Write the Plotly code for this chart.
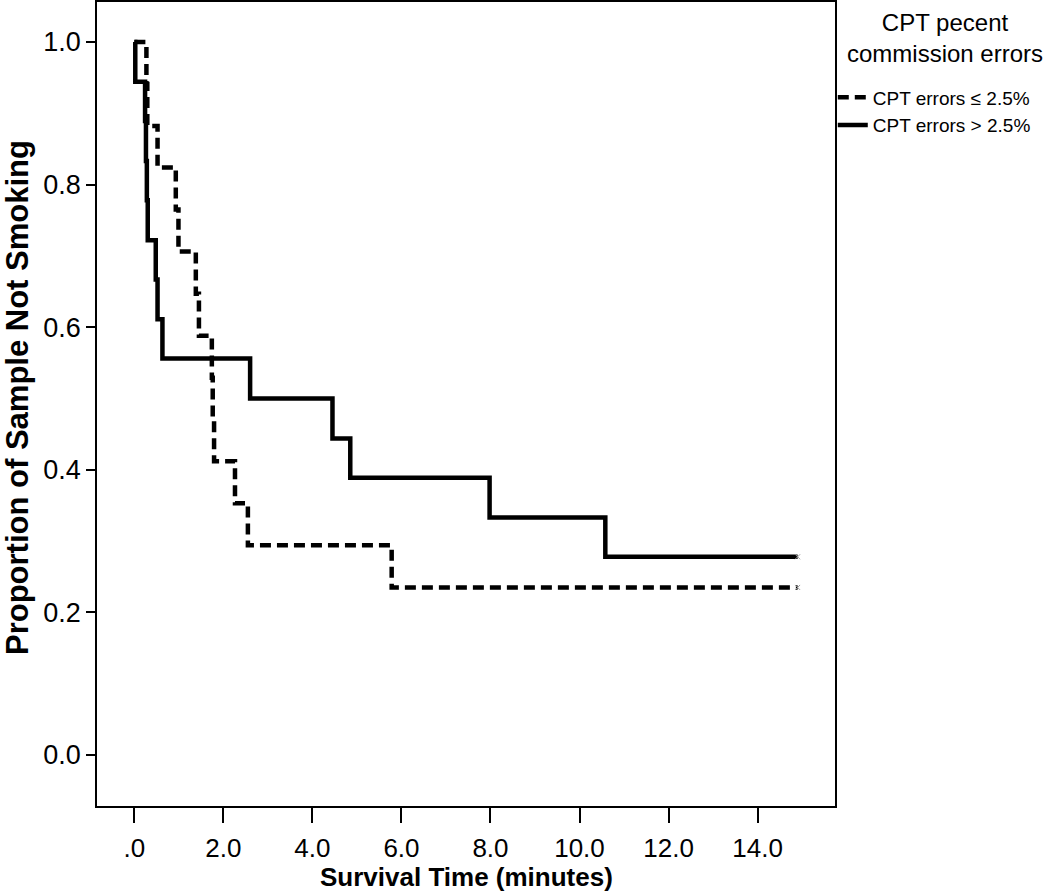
import plotly.graph_objects as go

# Kaplan-Meier step data (time in minutes, proportion not smoking)
low_times = [0.0, 0.27, 0.29, 0.52, 0.93, 0.99, 1.38, 1.45, 1.74, 1.76, 1.79, 2.26, 2.55, 5.78, 14.9]
low_surv = [1.0, 0.941, 0.882, 0.824, 0.765, 0.706, 0.647, 0.588, 0.529, 0.471, 0.412, 0.353, 0.294, 0.235, 0.235]

high_times = [0.0, 0.02, 0.24, 0.26, 0.28, 0.30, 0.48, 0.52, 0.63, 2.60, 4.45, 4.85, 7.98, 10.58, 14.9]
high_surv = [1.0, 0.944, 0.889, 0.833, 0.778, 0.722, 0.667, 0.611, 0.556, 0.5, 0.444, 0.389, 0.333, 0.278, 0.278]

series_names = ["CPT errors \u2264 2.5%", "CPT errors > 2.5%"]
legend_title_lines = ["CPT pecent", "commission errors"]
x_tickvals = [0, 2, 4, 6, 8, 10, 12, 14]
x_ticktext = [".0", "2.0", "4.0", "6.0", "8.0", "10.0", "12.0", "14.0"]
y_tickvals = [0.0, 0.2, 0.4, 0.6, 0.8, 1.0]

FONT = "Liberation Sans, Arial, sans-serif"

fig = go.Figure()
fig.add_trace(go.Scatter(
    x=low_times, y=low_surv, mode="lines", line_shape="hv",
    line=dict(color="black", width=4.5, dash="11px,6px"),
    name=series_names[0],
))
fig.add_trace(go.Scatter(
    x=high_times, y=high_surv, mode="lines", line_shape="hv",
    line=dict(color="black", width=4.5),
    name=series_names[1],
))
# censor marks at the end of follow-up
fig.add_trace(go.Scatter(
    x=[low_times[-1], high_times[-1]], y=[low_surv[-1], high_surv[-1]],
    mode="markers", marker=dict(symbol="x-thin-open", size=5, color="#999",
                                line=dict(width=1, color="#999")),
    showlegend=False, hoverinfo="skip",
))

fig.update_layout(
    width=1050, height=892,
    margin=dict(l=97, r=215, t=2, b=86, autoexpand=False),
    plot_bgcolor="white", paper_bgcolor="white",
    font=dict(family=FONT, color="black"),
    legend=dict(
        x=0.997, xanchor="left", y=0.905, yanchor="top",
        font=dict(size=19, family=FONT),
        itemwidth=30, tracegroupgap=0,
        bgcolor="rgba(0,0,0,0)",
    ),
    annotations=[
        dict(text="<br>".join(legend_title_lines), xref="paper", yref="paper",
             x=1.149, y=0.994, xanchor="center", yanchor="top", showarrow=False,
             align="center", font=dict(size=24, family=FONT)),
        dict(text="<b>Survival Time (minutes)</b>", xref="paper", yref="paper",
             x=0.501, y=-0.0878, xanchor="center", yanchor="middle", showarrow=False,
             font=dict(size=26, family=FONT)),
        dict(text="<b>Proportion of Sample Not Smoking</b>", xref="paper", yref="paper",
             x=-0.107, y=0.5075, xanchor="center", yanchor="middle", showarrow=False,
             textangle=-90, font=dict(size=31, family=FONT)),
    ],
)
fig.update_xaxes(
    range=[-0.84, 15.74], tickvals=x_tickvals, ticktext=x_ticktext,
    showgrid=False, zeroline=False, automargin=False,
    showline=True, linecolor="black", linewidth=1.5, mirror=True,
    ticks="outside", ticklen=15, tickwidth=1.5, tickcolor="black",
    ticklabelstandoff=3,
    tickfont=dict(size=26, family=FONT),
)
fig.update_yaxes(
    range=[-0.0715, 1.056], tickvals=y_tickvals, tickformat=".1f",
    showgrid=False, zeroline=False, automargin=False,
    showline=True, linecolor="black", linewidth=1.5, mirror=True,
    ticks="outside", ticklen=9, tickwidth=1.5, tickcolor="black",
    tickfont=dict(size=27, family=FONT),
)

fig.write_html(
    "out.html",
    config={"displayModeBar": False},
    post_script="document.body.style.margin='0';document.body.style.overflow='hidden';",
)
